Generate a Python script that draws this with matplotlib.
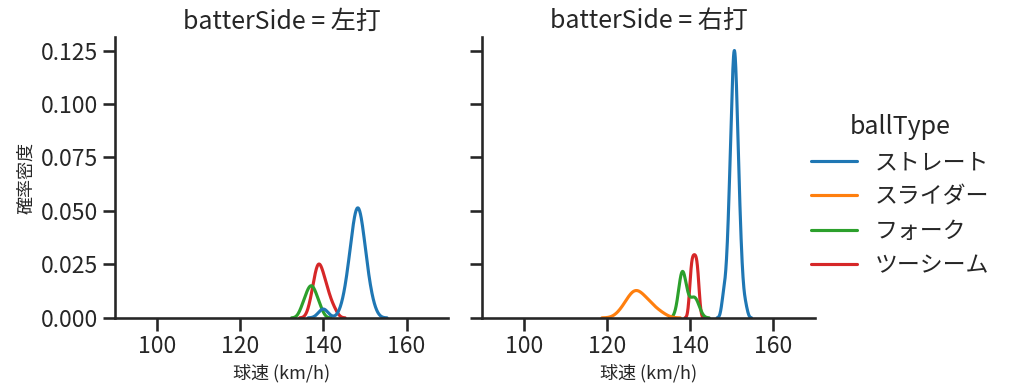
import numpy as np
import pandas as pd
import matplotlib
matplotlib.use("Agg")
import matplotlib.pyplot as plt
import seaborn as sns

# ---- data (pitch speeds, km/h) ----
sides = ["左打", "右打"]
ball_types = ["ストレート", "スライダー", "フォーク", "ツーシーム"]

left_straight = [144.6, 145.4, 145.7, 146.0, 146.3, 146.5, 146.7, 146.8, 147.0, 147.1,
                 147.2, 147.3, 147.5, 147.6, 147.7, 147.8, 147.9, 148.0, 148.1, 148.2,
                 148.3, 148.3,
                 148.4, 148.5, 148.6, 148.7, 148.8, 148.9, 149.0, 149.1, 149.3, 149.4,
                 149.5, 149.6, 149.8, 149.9, 150.1, 150.3, 150.6, 150.9, 151.3, 152.0,
                 139.7, 140.3]
left_fork = [134.9, 135.7, 136.2, 136.6, 136.9, 137.3, 137.6, 138.0, 138.5, 139.3]
left_twoseam = [136.9, 137.5, 137.9, 138.1, 138.4, 138.6, 138.8, 138.9, 139.1,
                139.3, 139.6, 139.9, 140.1, 140.4, 140.8, 141.2, 141.7, 142.7]

right_straight = [148.7, 148.9, 149.1, 149.2, 149.4, 149.5, 149.5, 149.6, 149.7, 149.8,
                  149.8, 149.9, 150.0, 150.0, 150.1, 150.1, 150.2, 150.2, 150.3, 150.3,
                  150.4, 150.4, 150.6, 150.5, 150.5, 150.5, 150.6,
                  150.6, 150.7, 150.7, 150.8, 150.8, 150.9, 150.9, 150.9,
                  151.0, 151.0, 151.1, 151.1, 151.2, 151.3, 151.3, 151.4, 151.4, 151.5,
                  151.6, 151.7, 151.8, 151.9, 152.0, 152.1, 152.4, 152.6,
                  147.9, 148.2, 153.3]
right_slider = [123.3, 124.5, 125.2, 125.7, 126.1, 126.5, 126.9, 127.2,
                127.6, 128.1, 128.6, 129.2, 129.8, 130.5, 131.4, 133.1]
right_fork = [137.7, 137.9, 138.0, 138.1, 138.1, 138.2, 138.3, 138.5,
              139.5, 140.4, 140.9, 141.3, 141.9]
right_twoseam = [140.0, 140.2, 140.4, 140.6, 140.8, 141.0, 141.2, 141.4, 141.6,
                 141.8, 142.0]

groups = [
    ("左打", "ストレート", left_straight),
    ("左打", "フォーク", left_fork),
    ("左打", "ツーシーム", left_twoseam),
    ("右打", "ストレート", right_straight),
    ("右打", "スライダー", right_slider),
    ("右打", "フォーク", right_fork),
    ("右打", "ツーシーム", right_twoseam),
]
rows = []
for side, bt, vals in groups:
    for v in vals:
        rows.append((side, bt, v))
df = pd.DataFrame(rows, columns=["batterSide", "ballType", "speed"])

# ---- plot ----
sns.set_theme(style="ticks", context="talk")
plt.rcParams['font.family'] = ['Noto Sans CJK JP', 'DejaVu Sans']

g = sns.displot(data=df, x="speed", hue="ballType", col="batterSide", kind="kde",
                hue_order=ball_types, col_order=sides, palette="tab10",
                height=4, aspect=1.1)
g.set_axis_labels("球速 (km/h)", "確率密度", fontsize=13)
g.set(xlim=(90, 170), xticks=[100, 120, 140, 160])
g.set_titles("batterSide = {col_name}")

fig = g.figure
fig.set_size_inches(10.1, 3.91)
fig.subplots_adjust(left=0.114, right=0.807, bottom=0.187, top=0.905, wspace=0.102)

fig.savefig("out.png", dpi=100)
